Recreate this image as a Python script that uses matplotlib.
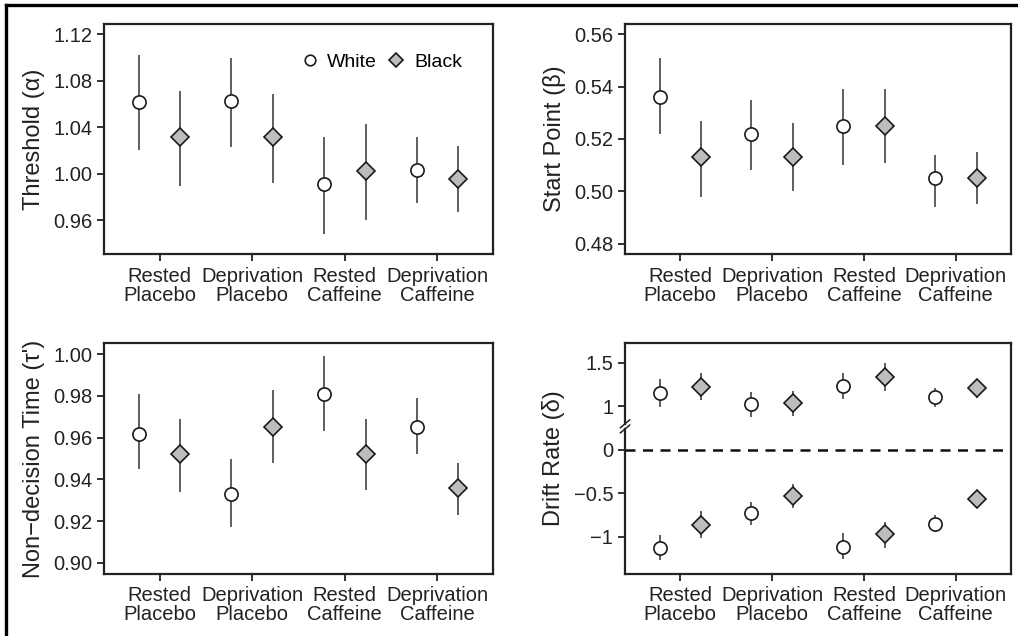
import matplotlib.pyplot as plt
import numpy as np
from matplotlib.lines import Line2D

plt.rcParams['font.family'] = ['Liberation Sans', 'DejaVu Sans']

#########################################
### DATA ###
conditions = ['Rested\nPlacebo', 'Deprivation\nPlacebo', 'Rested\nCaffeine', 'Deprivation\nCaffeine']

# Threshold (alpha)
thr_white = [1.062, 1.063, 0.991, 1.003]
thr_white_lo = [1.020, 1.023, 0.948, 0.975]
thr_white_hi = [1.102, 1.100, 1.032, 1.032]
thr_black = [1.032, 1.032, 1.002, 0.995]
thr_black_lo = [0.989, 0.992, 0.960, 0.967]
thr_black_hi = [1.071, 1.069, 1.043, 1.024]

# Start point (beta)
sp_white = [0.536, 0.522, 0.525, 0.505]
sp_white_lo = [0.522, 0.508, 0.510, 0.494]
sp_white_hi = [0.551, 0.535, 0.539, 0.514]
sp_black = [0.513, 0.513, 0.525, 0.505]
sp_black_lo = [0.498, 0.500, 0.511, 0.495]
sp_black_hi = [0.527, 0.526, 0.539, 0.515]

# Non-decision time (tau)
nd_white = [0.962, 0.933, 0.981, 0.965]
nd_white_lo = [0.945, 0.917, 0.963, 0.952]
nd_white_hi = [0.981, 0.950, 0.999, 0.979]
nd_black = [0.952, 0.965, 0.952, 0.936]
nd_black_lo = [0.934, 0.948, 0.935, 0.923]
nd_black_hi = [0.969, 0.983, 0.969, 0.948]

# Drift rate (delta), positive and negative
dr_white_pos = [1.15, 1.03, 1.23, 1.11]
dr_white_pos_lo = [0.99, 0.88, 1.08, 0.99]
dr_white_pos_hi = [1.31, 1.17, 1.39, 1.21]
dr_black_pos = [1.22, 1.04, 1.34, 1.21]
dr_black_pos_lo = [1.07, 0.89, 1.18, 1.10]
dr_black_pos_hi = [1.38, 1.18, 1.50, 1.32]
dr_white_neg = [-1.135, -0.73, -1.115, -0.854]
dr_white_neg_lo = [-1.27, -0.87, -1.26, -0.95]
dr_white_neg_hi = [-0.98, -0.60, -0.96, -0.75]
dr_black_neg = [-0.865, -0.53, -0.973, -0.57]
dr_black_neg_lo = [-1.01, -0.67, -1.135, -0.673]
dr_black_neg_hi = [-0.71, -0.39, -0.835, -0.473]

# the upper part of the drift axis is shifted down (axis break)
break_shift = 0.5
dr_ticks = [1.5, 1, 0, -0.5, -1]
dr_ticklabels = ['1.5', '1', '0', '\u22120.5', '\u22121']
#########################################

x = np.arange(1, 5)
off = 0.225
tick_fs = 14.5
label_fs = 17
edge = '#1a1a1a'
barcol = '#333333'


def draw_pair(ax, w, wlo, whi, b, blo, bhi, shift=0.0):
    w = np.array(w) - shift
    b = np.array(b) - shift
    ax.vlines(x - off, np.array(wlo) - shift, np.array(whi) - shift, color=barcol, lw=1.1, zorder=2)
    ax.vlines(x + off, np.array(blo) - shift, np.array(bhi) - shift, color=barcol, lw=1.1, zorder=2)
    ax.plot(x - off, w, 'o', ms=9.5, mfc='white', mec=edge, mew=1.2, ls='none', zorder=3, label='White')
    ax.plot(x + off, b, 'D', ms=9, mfc='#bdbdbd', mec=edge, mew=1.2, ls='none', zorder=3, label='Black')


def style(ax, ylabel):
    ax.set_xlim(0.4, 4.6)
    ax.set_xticks(x)
    ax.set_xticklabels(conditions, fontsize=tick_fs, color='#222222', linespacing=1.0)
    ax.tick_params(axis='both', direction='out', length=5, width=1.3, color='#222222',
                   labelsize=tick_fs, labelcolor='#222222')
    ax.tick_params(axis='x', pad=4)
    for s in ax.spines.values():
        s.set_linewidth(1.6)
        s.set_color('#222222')
    ax.set_ylabel(ylabel, fontsize=label_fs, color='#222222', labelpad=6)


fig = plt.figure(figsize=(10.18, 6.36), dpi=100)

ax1 = fig.add_axes([0.1022, 0.6006, 0.3821, 0.3617])
draw_pair(ax1, thr_white, thr_white_lo, thr_white_hi, thr_black, thr_black_lo, thr_black_hi)
style(ax1, 'Threshold (\u03b1)')
ax1.set_ylim(0.9307, 1.129)
ax1.set_yticks([0.96, 1.00, 1.04, 1.08, 1.12])
ax1.set_yticklabels(['0.96', '1.00', '1.04', '1.08', '1.12'])
ax1.legend(loc='upper right', ncol=2, frameon=False, fontsize=14, handlelength=1.0,
           handletextpad=0.4, columnspacing=0.5, markerscale=0.8, borderaxespad=0.0,
           bbox_to_anchor=(0.94, 0.905))

ax2 = fig.add_axes([0.614, 0.6006, 0.3791, 0.3617])
draw_pair(ax2, sp_white, sp_white_lo, sp_white_hi, sp_black, sp_black_lo, sp_black_hi)
style(ax2, 'Start Point (\u03b2)')
ax2.set_ylim(0.476, 0.564)
ax2.set_yticks([0.48, 0.50, 0.52, 0.54, 0.56])
ax2.set_yticklabels(['0.48', '0.50', '0.52', '0.54', '0.56'])

ax3 = fig.add_axes([0.1022, 0.0975, 0.3821, 0.3632])
draw_pair(ax3, nd_white, nd_white_lo, nd_white_hi, nd_black, nd_black_lo, nd_black_hi)
style(ax3, "Non\u2212decision Time (\u03c4')")
ax3.set_ylim(0.8947, 1.0054)
ax3.set_yticks([0.90, 0.92, 0.94, 0.96, 0.98, 1.00])
ax3.set_yticklabels(['0.90', '0.92', '0.94', '0.96', '0.98', '1.00'])

ax4 = fig.add_axes([0.614, 0.0975, 0.3791, 0.3632])
draw_pair(ax4, dr_white_pos, dr_white_pos_lo, dr_white_pos_hi,
          dr_black_pos, dr_black_pos_lo, dr_black_pos_hi, shift=break_shift)
draw_pair(ax4, dr_white_neg, dr_white_neg_lo, dr_white_neg_hi,
          dr_black_neg, dr_black_neg_lo, dr_black_neg_hi)
style(ax4, 'Drift Rate (\u03b4)')
ax4.set_ylim(-1.43, 1.23)
ax4.set_yticks([t - break_shift if t > 0 else t for t in dr_ticks])
ax4.set_yticklabels(dr_ticklabels)
ax4.axhline(0, color='#111111', lw=1.8, ls=(0, (4, 3)), zorder=1)

# break on the y axis
ax4.spines['left'].set_visible(False)
trans = ax4.get_yaxis_transform()
gap_lo, gap_hi = 0.24, 0.30
ax4.plot([0, 0], [-1.43, gap_lo], color='#222222', lw=1.6, transform=trans, clip_on=False)
ax4.plot([0, 0], [gap_hi, 1.23], color='#222222', lw=1.6, transform=trans, clip_on=False)
for yb in (gap_lo, gap_hi):
    ax4.plot([-0.012, 0.012], [yb - 0.045, yb + 0.045], color='#222222', lw=1.1,
             transform=trans, clip_on=False)

# outer frame (top and left only)
fig.add_artist(Line2D([0.0055, 1.0], [0.9915, 0.9915], color='black', lw=2.4, transform=fig.transFigure))
fig.add_artist(Line2D([0.0055, 0.0055], [0.0, 0.9915], color='black', lw=2.4, transform=fig.transFigure))

plt.savefig('out.png', dpi=100)
